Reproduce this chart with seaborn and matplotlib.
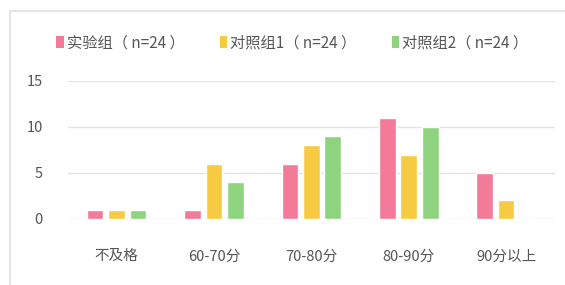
import pandas as pd
import matplotlib.pyplot as plt
import seaborn as sns
from matplotlib.patches import Rectangle, Patch

categories = ['不及格', '60-70分', '70-80分', '80-90分', '90分以上']
groups = ['实验组（ n=24 ）', '对照组1（ n=24 ）', '对照组2（ n=24 ）']
exp_values = [1, 1, 6, 11, 5]
ctrl1_values = [1, 6, 8, 7, 2]
ctrl2_values = [1, 4, 9, 10, 0]
y_ticks = [0, 5, 10, 15]

colors = ['#F37A98', '#F6CB42', '#8ED47F']


def build_frame():
    rows = []
    for grp, vals in zip(groups, [exp_values, ctrl1_values, ctrl2_values]):
        for cat, v in zip(categories, vals):
            rows.append({'category': cat, 'group': grp, 'value': v})
    return pd.DataFrame(rows)


def main():
    sns.set_theme(style='white')
    plt.rcParams['font.family'] = ['Noto Sans CJK SC', 'DejaVu Sans']

    df = build_frame()
    fig = plt.figure(figsize=(5.65, 2.85), dpi=100)
    ax = fig.add_axes([0.120, 0.232, 0.862, 0.484])

    sns.barplot(data=df, x='category', y='value', hue='group', order=categories,
                hue_order=groups, palette=colors, width=0.66, gap=0.22,
                saturation=1, ax=ax, legend=False)

    ax.set_ylim(0, 15)
    ax.set_xlim(-0.5, 4.5)
    ax.set_yticks(y_ticks)
    ax.yaxis.grid(True, color='#e3e3e3', linewidth=1)
    ax.set_axisbelow(True)
    for s in ax.spines.values():
        s.set_visible(False)
    ax.set_xlabel('')
    ax.set_ylabel('')
    ax.tick_params(axis='y', colors='#555555', labelsize=10.5, pad=18, length=0)
    ax.tick_params(axis='x', colors='#555555', labelsize=10.5, pad=22, length=0)

    # legend along the top
    handles = [Patch(facecolor=c, edgecolor='none') for c in colors]
    fig.legend(handles, groups, loc='center left', bbox_to_anchor=(0.075, 0.85),
               ncol=3, frameon=False, fontsize=11, handlelength=0.5,
               handleheight=0.75, handletextpad=0.2, columnspacing=2.3,
               labelcolor='#555555')

    # thin frame at the left/top of the picture
    fig.add_artist(Rectangle((0.018, -0.05), 1.2, 1.011, transform=fig.transFigure,
                             fill=False, edgecolor='#e0e0e0', linewidth=1.2))

    fig.savefig('out.png', dpi=100, facecolor='white')


if __name__ == '__main__':
    main()
